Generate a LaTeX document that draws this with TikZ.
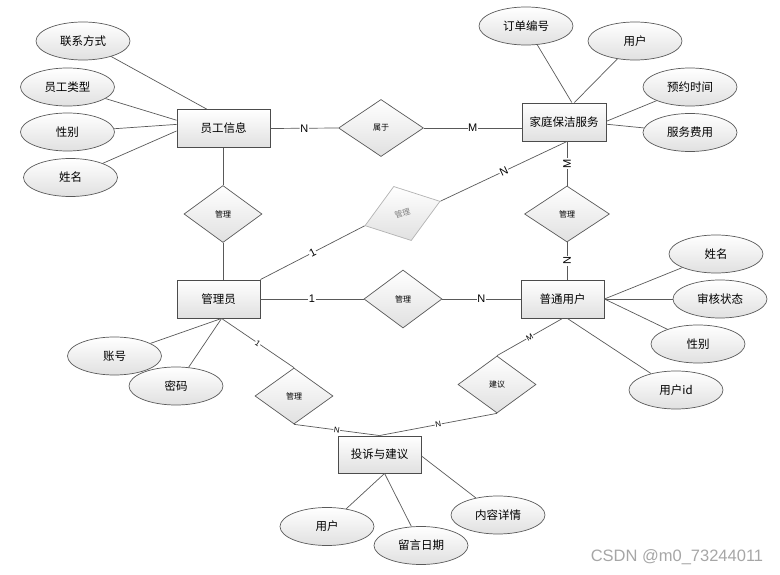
\documentclass[tikz,border=0pt]{standalone}
\usepackage{fontspec}
\setmainfont{Liberation Sans}
\newfontfamily\cjk{Noto Sans CJK SC}
\usepackage{tikz}
\usetikzlibrary{shapes,shadows,calc}
\usetikzlibrary{positioning}
\tikzstyle{line}=[draw=black!65, line width=0.7pt]
\tikzstyle{shade_style}=[top color=white, bottom color=black!12]
\tikzstyle{entity}=[draw=black!70, line width=0.9pt, shade_style, rectangle,
minimum width=83pt, minimum height=38pt, inner sep=0pt, font=\cjk\fontsize{11.5}{12}\selectfont,
drop shadow={opacity=0.25, shadow xshift=1pt, shadow yshift=-1pt}]
\tikzstyle{attr}=[draw=black!65, line width=0.7pt, shade_style, ellipse,
minimum width=94pt, minimum height=38pt, inner sep=0pt, font=\cjk\fontsize{11.5}{12}\selectfont]
\tikzstyle{relation}=[draw=black!65, line width=0.7pt, shade_style, diamond,
minimum width=78pt, minimum height=57pt, inner sep=0pt, font=\cjk\fontsize{8}{9}\selectfont]
\tikzstyle{relation_grey}=[relation, draw=black!30, text=black!50, rotate=18]
\tikzstyle{card}=[fill=white, inner sep=0.6pt, sloped, font=\fontsize{11}{11}\selectfont]
\tikzstyle{card_small}=[card, font=\fontsize{8}{8}\selectfont]

\begin{document}
\begin{tikzpicture}[x=1pt, y=-1pt]
		\useasboundingbox (0,0) rectangle (780,575) ;

		% entities
		\node[entity, minimum width=93pt] (E1) at (223.5,128.5) {员工信息} ;
		\node[entity, minimum width=84pt] (E2) at (564,122) {家庭保洁服务} ;
		\node[entity] (E3) at (218.5,299) {管理员} ;
		\node[entity] (E4) at (562.5,299) {普通用户} ;
		\node[entity, minimum height=37pt] (E5) at (379.5,454.5) {投诉与建议} ;

		% relations
		\node[relation, minimum width=85pt] (R1) at (381,128) {属于} ;
		\node[relation] (R2) at (223,214) {管理} ;
		\node[relation_grey, minimum width=79pt] (R3) at (402.5,213.5) {管理} ;
		\node[relation, minimum width=85pt, minimum height=56pt] (R4) at (567,214) {管理} ;
		\node[relation, minimum height=58pt] (R5) at (403,299) {管理} ;
		\node[relation, minimum height=56pt] (R6) at (294,396) {管理} ;
		\node[relation] (R7) at (497,384.5) {建议} ;

		% attributes
		\node[attr] (A1) at (83,41) {联系方式} ;
		\node[attr] (A2) at (67.5,87) {员工类型} ;
		\node[attr] (A3) at (67.5,132) {性别} ;
		\node[attr] (A4) at (70.5,177.5) {姓名} ;
		\node[attr] (A5) at (526,26) {订单编号} ;
		\node[attr] (A6) at (635,41) {用户} ;
		\node[attr] (A7) at (690,87) {预约时间} ;
		\node[attr] (A8) at (690,132.5) {服务费用} ;
		\node[attr] (A9) at (716,254) {姓名} ;
		\node[attr] (A10) at (720,299) {审核状态} ;
		\node[attr] (A11) at (698,344) {性别} ;
		\node[attr] (A12) at (676,390) {用户id} ;
		\node[attr] (A13) at (114.5,356) {账号} ;
		\node[attr] (A14) at (176,386) {密码} ;
		\node[attr] (A15) at (327,526.5) {用户} ;
		\node[attr] (A16) at (421,545.5) {留言日期} ;
		\node[attr] (A17) at (498,515) {内容详情} ;

		% attribute lines
		\draw[line] (A1) -- (E1.131) ;
		\draw[line] (A2) -- (E1.170) ;
		\draw[line] (A3) -- (E1.175) ;
		\draw[line] (A4) -- (E1.183) ;
		\draw[line] (A5) -- (E2.68) ;
		\draw[line] (A6) -- (E2.62) ;
		\draw[line] (A7) -- (E2.1) ;
		\draw[line] (A8) -- (E2.-3) ;
		\draw[line] (A9) -- (E4.east) ;
		\draw[line] (A10) -- (E4.east) ;
		\draw[line] (A11) -- (E4.east) ;
		\draw[line] (A12) -- (E4.-76) ;
		\draw[line] (A13) -- (E3.-81) ;
		\draw[line] (A14) -- (E3.-81) ;
		\draw[line] (A15) -- (E5.-75) ;
		\draw[line] (A16) -- (E5.-75) ;
		\draw[line] (A17) -- (E5.-2) ;

		% relation lines
		\draw[line] (E1.east) -- node[card] {N} (R1.west) ;
		\draw[line] (R1.east) -- node[card] {M} (R1.east -| E2.west) ;
		\draw[line] (E1.south -| R2.north) -- (R2.north) ;
		\draw[line] (R2.south) -- (R2.south |- E3.north) ;
		\draw[line] (E2.-81) -- node[card] {N} (R3.east) ;
		\draw[line] (R3.west) -- node[card] {1} (E3.north east) ;
		\draw[line] (R4.north) -- node[card] {M} (R4.north |- E2.south) ;
		\draw[line] (R4.south |- E4.north) -- node[card] {N} (R4.south) ;
		\draw[line] (E3.east) -- node[card] {1} (R5.west) ;
		\draw[line] (R5.east) -- node[card] {N} (E4.west) ;
		\draw[line] (E3.-81) -- node[card_small] {1} (R6.north) ;
		\draw[line] (R6.south) -- node[card_small] {N} (E5.north) ;
		\draw[line] (E4.south) -- node[card_small] {M} (R7.north) ;
		\draw[line] (R7.south) -- node[card_small] {N} (E5.north) ;

		\node[text=black!35, font=\fontsize{16.5}{16.5}\selectfont] (W) at (677,557) {CSDN @m0\_73244011} ;
	\end{tikzpicture}
\end{document}
